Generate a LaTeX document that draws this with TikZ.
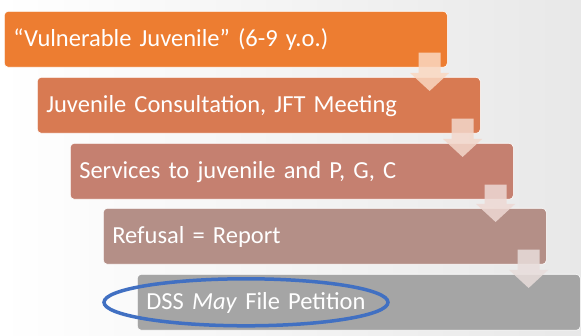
\documentclass[tikz,border=0pt]{standalone}
\usepackage{fontspec}
\setmainfont{Carlito}
\usetikzlibrary{calc}

\definecolor{stepA}{HTML}{ED7D31}
\definecolor{stepB}{HTML}{D87A52}
\definecolor{stepC}{HTML}{C58070}
\definecolor{stepD}{HTML}{B48F87}
\definecolor{stepE}{HTML}{A5A5A5}
\definecolor{ringblue}{HTML}{4170C2}

% one step-down arrow from the lower right of box #1 into box #2
\newcommand{\stepdownarrow}[3]{%
  \fill[fill=#3!30!white, opacity=0.85]
    ($(#1.south east)+(-29,-15)$) --
    ($(#1.south east)+(-7,-15)$) --
    ($(#1.south east |- #2.north)+(-7,-4)$) --
    ($(#1.south east |- #2.north)+(1.5,-4)$) --
    ($(#1.south east |- #2.north)+(-18,14)$) --
    ($(#1.south east |- #2.north)+(-37.5,-4)$) --
    ($(#1.south east |- #2.north)+(-29,-4)$) -- cycle;}

\begin{document}
\begin{tikzpicture}[x=1pt, y=-1pt,
  stepbox/.style={draw=white, line width=0.6pt, rounded corners=4pt,
    anchor=north west, minimum width=443pt, minimum height=56pt,
    text width=425pt, inner xsep=9pt, inner ysep=0pt, align=left, text=white,
    text height=15.4pt, text depth=0pt,
    font=\fontsize{24.5}{28}\selectfont}]
  % backdrop
  \useasboundingbox (0,0) rectangle (581,336);
  \shade[left color=white, right color=black!9] (0,0) rectangle (581,336);

  % the five staggered steps
  \node[stepbox, fill=stepA] (b1) at (4,11)   {“Vulnerable Juvenile” (6-9 y.o.)};
  \node[stepbox, fill=stepB] (b2) at (37,77)  {Juvenile Consultation, JFT Meeting};
  \node[stepbox, fill=stepC] (b3) at (70,143) {Services to juvenile and P, G, C};
  \node[stepbox, fill=stepD] (b4) at (103,208){Refusal = Report};
  \node[stepbox, fill=stepE] (b5) at (137,274){DSS \textit{May} File Petition};

  % arrows between consecutive steps
  \stepdownarrow{b1}{b2}{stepA}
  \stepdownarrow{b2}{b3}{stepB}
  \stepdownarrow{b3}{b4}{stepC}
  \stepdownarrow{b4}{b5}{stepD}

  % highlight ring around the last step's text
  \draw[ringblue, line width=3.5pt] ($(b5.west)+(109,0)$) ellipse [x radius=142, y radius=23.5];
\end{tikzpicture}
\end{document}
